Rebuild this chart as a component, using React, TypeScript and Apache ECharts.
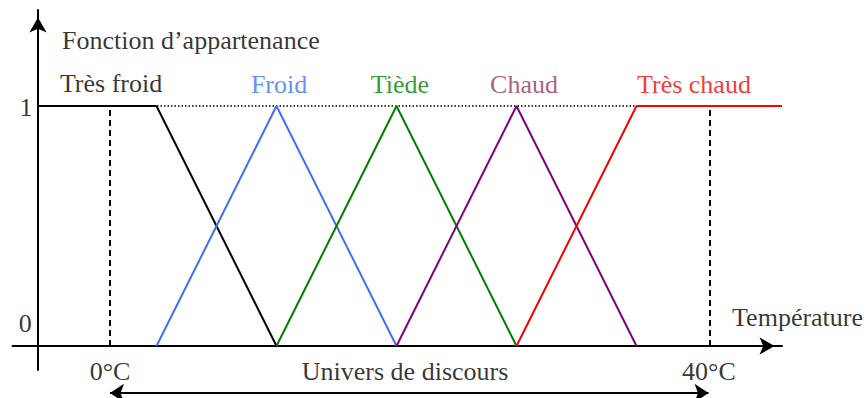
import React, { useEffect, useRef } from "react";
import * as echarts from "echarts";

const categories = ["Très froid", "Froid", "Tiède", "Chaud", "Très chaud"];
const colors = ["#000000", "#3f6fff", "#008000", "#800080", "#ff0000"];
const labelColors = ["#000000", "#3f6fff", "#008000", "#993366", "#ff0000"];

const tresFroid = [[-4.8, 1], [3.1, 1], [11.1, 0]];
const froid = [[3.1, 0], [11.1, 1], [19.1, 0]];
const tiede = [[11.1, 0], [19.1, 1], [27.1, 0]];
const chaud = [[19.1, 0], [27.1, 1], [35.1, 0]];
const tresChaud = [[27.1, 0], [35.1, 1], [44.8, 1]];
const seriesData = [tresFroid, froid, tiede, chaud, tresChaud];

const universeBounds = [0, 40];
const universeTicks = ["0°C", "40°C"];
const yTicks = ["0", "1"];

const FONT = "'Liberation Serif', 'Times New Roman', serif";
const FS = 26;

export default function App() {
  const ref = useRef<HTMLDivElement>(null);
  useEffect(() => {
    if (!ref.current) return;
    const chart = echarts.init(ref.current, null, { renderer: "svg" });

    const lineSeries = seriesData.map((d, i) => ({
      type: "line",
      name: categories[i],
      data: d,
      symbol: "none",
      lineStyle: { color: colors[i], width: 2 },
      z: 5,
      silent: true,
    }));

    const txt = (name: string, x: number, y: number, color = "#000", align = "center") => ({
      name,
      value: [x, y],
      label: {
        show: true,
        position: "inside",
        formatter: name,
        color,
        fontFamily: FONT,
        fontSize: FS,
        align,
        verticalAlign: "middle",
      },
    });

    const labelPos = [
      [0.07, 1.092],
      [11.27, 1.088],
      [19.33, 1.088],
      [27.6, 1.088],
      [38.93, 1.088],
    ];

    const labels = [
      txt("Fonction d\u2019appartenance", -3.2, 1.275, "#000", "left"),
      ...categories.map((c, i) => txt(c, labelPos[i][0], labelPos[i][1], labelColors[i])),
      txt(yTicks[1], -5.6, 0.992),
      txt(yTicks[0], -5.65, 0.092),
      txt(universeTicks[0], universeBounds[0], -0.108),
      txt(universeTicks[1], universeBounds[1] - 0.07, -0.108),
      txt("Température", 41.47, 0.117, "#000", "left"),
      txt("Univers de discours", 19.67, -0.108),
    ];

    chart.setOption({
      animation: false,
      backgroundColor: "#fff",
      grid: { left: 12.5, right: 86, top: 10, bottom: 28, containLabel: false },
      xAxis: {
        type: "value",
        min: -6.5,
        max: 44.8,
        splitLine: { show: false },
        axisTick: { show: false },
        axisLabel: { show: false },
        axisLine: {
          show: true,
          onZero: true,
          lineStyle: { color: "#000", width: 2 },
          symbol: ["none", "arrow"],
          symbolSize: [13, 15],
          symbolOffset: [0, -7.5],
        },
      },
      yAxis: {
        type: "value",
        min: -0.1,
        max: 1.4,
        offset: -25.5,
        splitLine: { show: false },
        axisTick: { show: false },
        axisLabel: { show: false },
        axisLine: {
          show: true,
          onZero: false,
          lineStyle: { color: "#000", width: 2 },
          symbol: ["none", "arrow"],
          symbolSize: [13, 15],
          symbolOffset: [0, -7.5],
        },
      },
      series: [
        {
          type: "line",
          data: [[-4.8, 1], [35.1, 1]],
          symbol: "none",
          lineStyle: { color: "#000", width: 1.5, type: [1.5, 2] },
          z: 2,
          silent: true,
        },
        ...universeBounds.map((b) => ({
          type: "line",
          data: [[b, 0], [b, 1]],
          symbol: "none",
          lineStyle: { color: "#000", width: 2, type: [6, 4] },
          z: 3,
          silent: true,
        })),
        ...lineSeries,
        {
          type: "lines",
          coordinateSystem: "cartesian2d",
          clip: false,
          symbol: ["arrow", "arrow"],
          symbolSize: 14,
          lineStyle: { color: "#000", width: 2, opacity: 1 },
          data: [{ coords: [[universeBounds[0], -0.196], [universeBounds[1] - 0.1, -0.196]] }],
          silent: true,
        },
        {
          type: "scatter",
          symbolSize: 0,
          clip: false,
          data: labels,
          silent: true,
          z: 10,
        },
      ],
    });
    return () => chart.dispose();
  }, []);
  return <div ref={ref} style={{ width: 868, height: 398, position: "absolute", left: 0, top: 0 }} />;
}
